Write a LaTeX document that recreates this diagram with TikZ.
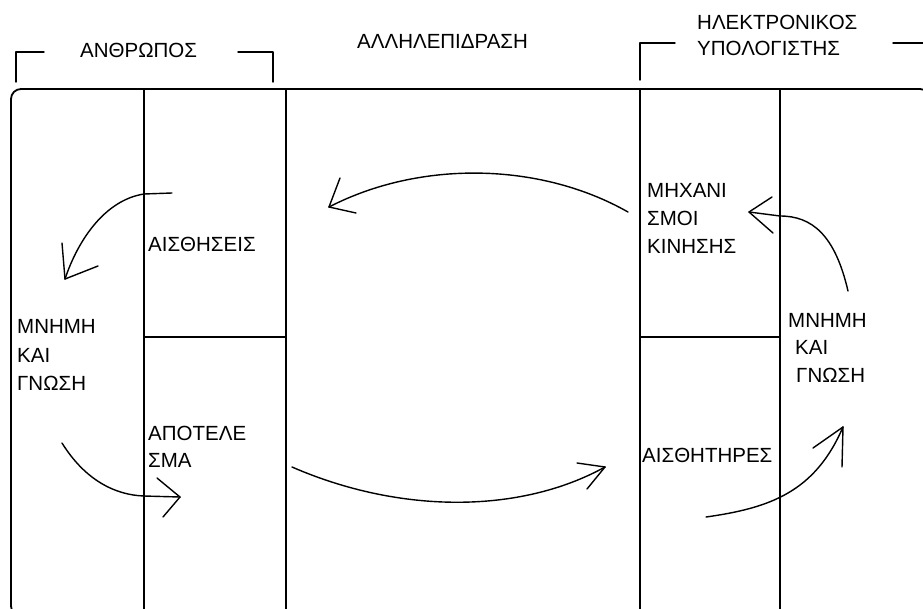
\documentclass[tikz,border=0pt]{standalone}
\usepackage{fontspec}
\setmainfont{Liberation Sans}
\begin{document}
\begin{tikzpicture}[x=1pt,y=-1pt,
  frame/.style={line width=1.8pt},
  stroke/.style={line width=1.4pt, line cap=round, line join=round},
  lbl/.style={anchor=base west, inner sep=0pt, font=\fontsize{20.5}{24}\selectfont}]
\useasboundingbox (0,0) rectangle (923,608);
\begin{scope}
\clip (0,0) rectangle (923,608);
% outer frame and columns
\draw[frame, rounded corners=10pt] (11,89) rectangle (930,616);
\draw[frame] (144,89) -- (144,610);
\draw[frame] (286,89) -- (286,610);
\draw[frame] (640,89) -- (640,610);
\draw[frame] (780,89) -- (780,610);
\draw[frame] (144,337) -- (286,337);
\draw[frame] (640,337) -- (780,337);
% header brackets
\draw[stroke] (16,82) -- (16,52) -- (44,52);
\draw[stroke] (238,52) -- (273,52) -- (273,82);
\draw[stroke] (640,80) -- (640,43) -- (675,43);
\draw[stroke] (893,43) -- (925,43);
\end{scope}

% headings
\node[lbl] (human) at (80,57) {ΑΝΘΡΩΠΟΣ};
\node[lbl] (inter) at (357,48) {ΑΛΛΗΛΕΠΙΔΡΑΣΗ};
\node[lbl] (comp1) at (697,29) {ΗΛΕΚΤΡΟΝΙΚΟΣ};
\node[lbl] (comp2) at (697,55) {ΥΠΟΛΟΓΙΣΤΗΣ};

% human side
\node[lbl] (senses) at (148,251) {ΑΙΣΘΗΣΕΙΣ};
\node[lbl] (memA1) at (17,333) {ΜΝΗΜΗ};
\node[lbl] (memA2) at (17,362) {ΚΑΙ};
\node[lbl] (memA3) at (17,390) {ΓΝΩΣΗ};
\node[lbl] (res1) at (148,440) {ΑΠΟΤΕΛΕ};
\node[lbl] (res2) at (148,467) {ΣΜΑ};

% computer side
\node[lbl] (mech1) at (647,197) {ΜΗΧΑΝΙ};
\node[lbl] (mech2) at (647,225) {ΣΜΟΙ};
\node[lbl] (mech3) at (647,253) {ΚΙΝΗΣΗΣ};
\node[lbl] (memB1) at (788,327) {ΜΝΗΜΗ};
\node[lbl] (memB2) at (795,354) {ΚΑΙ};
\node[lbl] (memB3) at (796,382) {ΓΝΩΣΗ};
\node[lbl] (sensors) at (642,462) {ΑΙΣΘΗΤΗΡΕΣ};

% arrow ends
\coordinate (a1s) at (172,193);
\coordinate (a1t) at (65,279);
\coordinate (a2s) at (62,443);
\coordinate (a2t) at (180,497);
\coordinate (a3s) at (628,212);
\coordinate (a3t) at (329,207);
\coordinate (a4s) at (292,467);
\coordinate (a4t) at (605,467);
\coordinate (a5s) at (848,291);
\coordinate (a5t) at (749,212);
\coordinate (a6s) at (706,517);
\coordinate (a6t) at (843,427);

% senses -> memory (human)
\draw[stroke] (a1s) -- (144,194) .. controls (105,200) and (78,240) .. (a1t);
\draw[stroke] (a1t) -- (62,243);
\draw[stroke] (a1t) -- (98,266);
% memory -> result (human)
\draw[stroke] (a2s) .. controls (85,480) and (115,495) .. (144,496) -- (a2t);
\draw[stroke] (a2t) -- (157,478);
\draw[stroke] (a2t) -- (163,517);
% motor mechanisms -> senses
\draw[stroke] (a3s) .. controls (540,162) and (420,160) .. (a3t);
\draw[stroke] (a3t) -- (340,178);
\draw[stroke] (a3t) -- (356,213);
% result -> sensors
\draw[stroke] (a4s) .. controls (400,514) and (520,514) .. (a4t);
\draw[stroke] (a4t) -- (577,463);
\draw[stroke] (a4t) -- (587,489);
% memory -> motor mechanisms (computer)
\draw[stroke] (a5s) .. controls (835,235) and (812,216) .. (780,216) -- (a5t);
\draw[stroke] (a5t) -- (772,197);
\draw[stroke] (a5t) -- (773,233);
% sensors -> memory (computer)
\draw[stroke] (a6s) .. controls (770,508) and (815,492) .. (a6t);
\draw[stroke] (a6t) -- (813,448);
\draw[stroke] (a6t) -- (842,467);
\end{tikzpicture}
\end{document}
